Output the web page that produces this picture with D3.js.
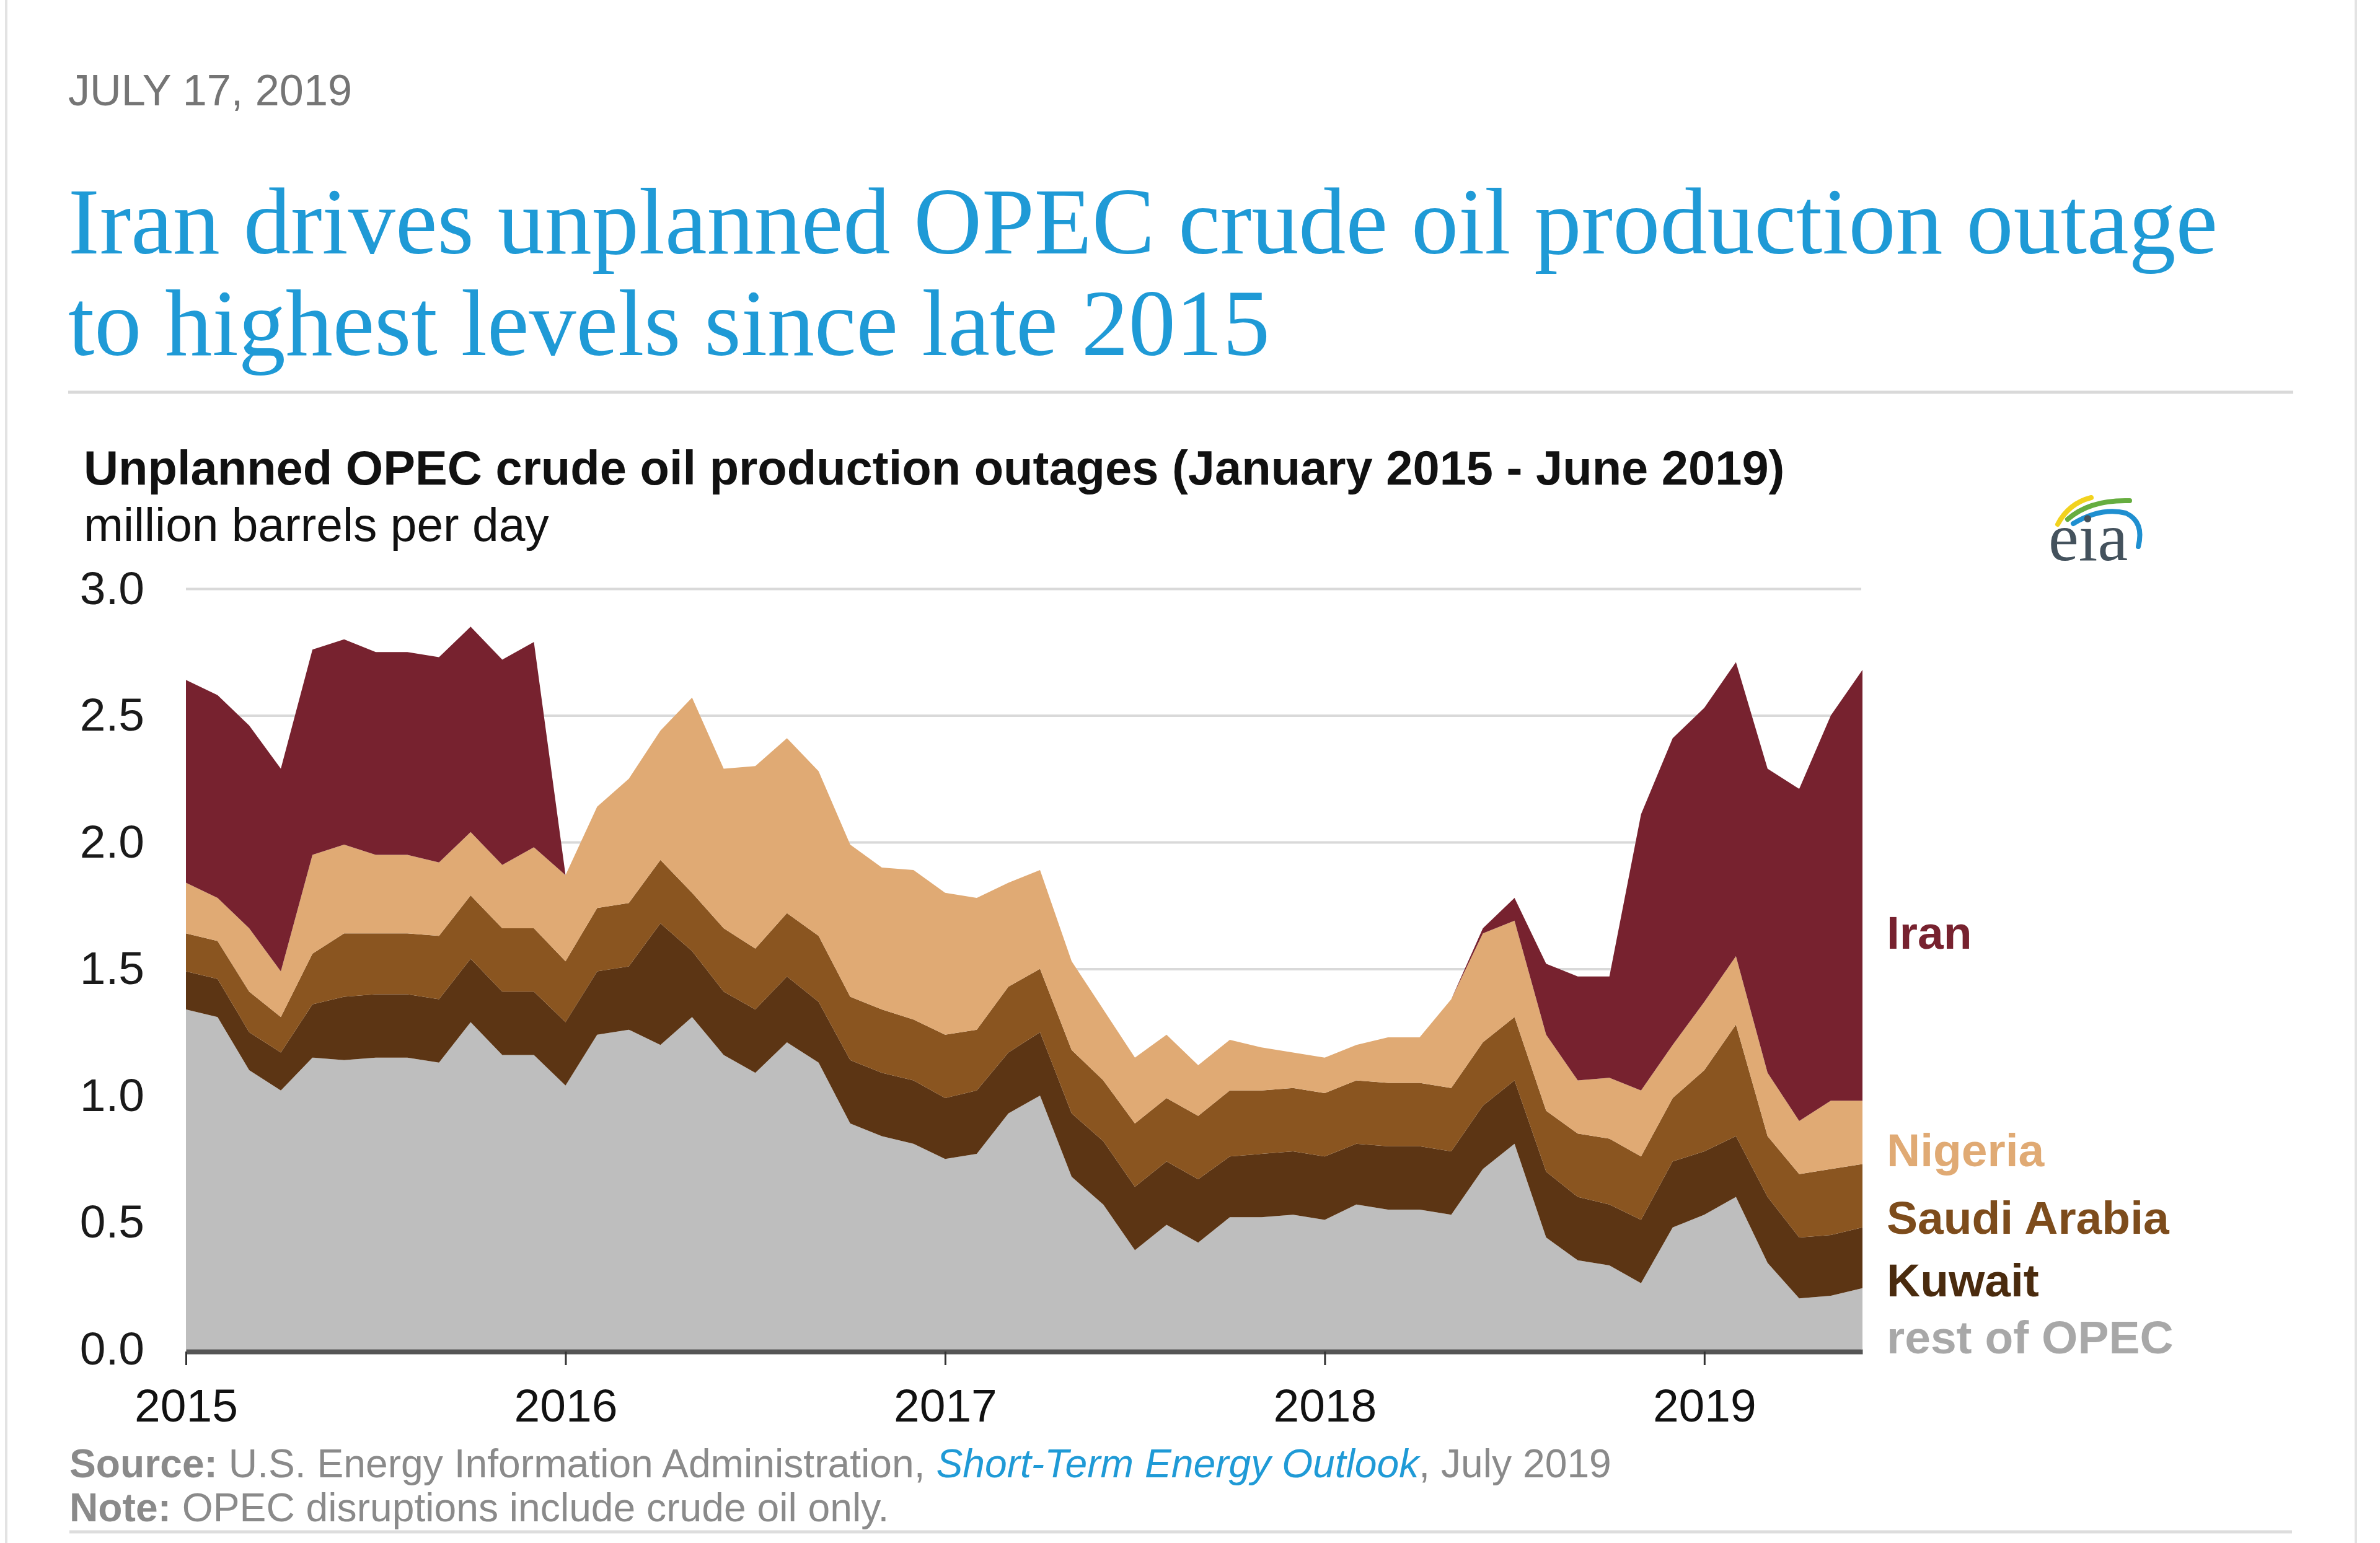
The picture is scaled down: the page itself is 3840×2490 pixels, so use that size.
<!DOCTYPE html>
<html>
<head>
<meta charset="utf-8">
<script src="https://cdn.jsdelivr.net/npm/d3@7"></script>
<style>
  html, body { margin: 0; padding: 0; background: #ffffff; }
  svg { display: block; }
</style>
</head>
<body>
<svg id="chart" width="3840" height="2490"></svg>
<script>
// ---------------- DATA (million barrels per day, monthly Jan 2015 - Jun 2019) ----------------
const yearLabels = ["2015", "2016", "2017", "2018", "2019"];
const yTicks = [0, 0.5, 1.0, 1.5, 2.0, 2.5, 3.0];
const seriesNames = ["rest of OPEC", "Kuwait", "Saudi Arabia", "Nigeria", "Iran"];

const restOfOPEC = [1.34,1.31,1.10,1.02,1.15,1.14,1.15,1.15,1.13,1.29,1.16,1.16,
                    1.04,1.24,1.26,1.20,1.31,1.16,1.09,1.21,1.13,0.89,0.84,0.81,
                    0.75,0.77,0.93,1.00,0.68,0.57,0.39,0.49,0.42,0.52,0.52,0.53,
                    0.51,0.57,0.55,0.55,0.53,0.71,0.81,0.44,0.35,0.33,0.26,0.48,
                    0.53,0.60,0.34,0.20,0.21,0.24];
const kuwait     = [0.15,0.15,0.15,0.15,0.21,0.25,0.25,0.25,0.25,0.25,0.25,0.25,
                    0.25,0.25,0.25,0.48,0.26,0.25,0.25,0.26,0.24,0.25,0.25,0.25,
                    0.24,0.25,0.24,0.25,0.25,0.25,0.25,0.25,0.25,0.24,0.25,0.25,
                    0.25,0.24,0.25,0.25,0.25,0.25,0.25,0.26,0.25,0.24,0.25,0.26,
                    0.25,0.24,0.26,0.24,0.24,0.24];
const saudiArabia= [0.15,0.15,0.16,0.14,0.20,0.25,0.24,0.24,0.25,0.25,0.25,0.25,
                    0.24,0.25,0.25,0.25,0.23,0.25,0.24,0.25,0.26,0.25,0.25,0.24,
                    0.25,0.24,0.26,0.25,0.25,0.24,0.25,0.25,0.25,0.26,0.25,0.25,
                    0.25,0.25,0.25,0.25,0.25,0.25,0.25,0.24,0.25,0.26,0.25,0.25,
                    0.32,0.44,0.24,0.25,0.26,0.25];
const nigeria    = [0.20,0.17,0.25,0.18,0.39,0.35,0.31,0.31,0.29,0.25,0.25,0.32,
                    0.34,0.40,0.49,0.51,0.77,0.63,0.72,0.69,0.65,0.60,0.56,0.59,
                    0.56,0.52,0.41,0.39,0.35,0.28,0.26,0.25,0.20,0.20,0.17,0.14,
                    0.14,0.14,0.18,0.18,0.35,0.43,0.38,0.30,0.21,0.24,0.26,0.21,
                    0.27,0.27,0.25,0.21,0.27,0.25];
const iran       = [0.80,0.80,0.80,0.80,0.81,0.81,0.80,0.80,0.81,0.81,0.81,0.81,
                    0.00,0.00,0.00,0.00,0.00,0.00,0.00,0.00,0.00,0.00,0.00,0.00,
                    0.00,0.00,0.00,0.00,0.00,0.00,0.00,0.00,0.00,0.00,0.00,0.00,
                    0.00,0.00,0.00,0.00,0.00,0.02,0.09,0.28,0.41,0.40,1.09,1.21,
                    1.16,1.16,1.20,1.31,1.52,1.70];

const seriesColors = ["#bebebe", "#5c3514", "#8a5520", "#e0aa74", "#77222f"];
const labelColors  = ["#a8a8a8", "#4a2b0e", "#7d4c1c", "#e0aa74", "#77222f"];

// ---------------- BUILD TABLE ----------------
const table = restOfOPEC.map((v, i) => ({
  "rest of OPEC": v,
  "Kuwait": kuwait[i],
  "Saudi Arabia": saudiArabia[i],
  "Nigeria": nigeria[i],
  "Iran": iran[i],
  idx: i
}));
const stacked = d3.stack().keys(seriesNames)(table);

const svg = d3.select("#chart");
const SANS = "'Liberation Sans', Arial, Helvetica, sans-serif";
const SERIF = "'Liberation Serif', 'Times New Roman', serif";

function fitWidth(sel, target) {
  const w = sel.node().getComputedTextLength();
  const fs = parseFloat(sel.attr("font-size"));
  sel.attr("font-size", (fs * target / w).toFixed(2));
}

// page frame
svg.append("line").attr("x1", 10).attr("x2", 10).attr("y1", 0).attr("y2", 2490)
  .attr("stroke", "#e3e3e3").attr("stroke-width", 4);
svg.append("line").attr("x1", 3801).attr("x2", 3801).attr("y1", 0).attr("y2", 2490)
  .attr("stroke", "#e3e3e3").attr("stroke-width", 4);

// header
const dateT = svg.append("text").attr("x", 110).attr("y", 170)
  .attr("font-family", SANS).attr("font-size", 70).attr("fill", "#757575")
  .text("JULY 17, 2019");
fitWidth(dateT, 458);

const t1 = svg.append("text").attr("x", 110).attr("y", 409)
  .attr("font-family", SERIF).attr("font-size", 140).attr("fill", "#1f9ad6")
  .text("Iran drives unplanned OPEC crude oil production outage");
fitWidth(t1, 3468);
svg.append("text").attr("x", 110).attr("y", 573)
  .attr("font-family", SERIF).attr("font-size", t1.attr("font-size")).attr("fill", "#1f9ad6")
  .text("to highest levels since late 2015");

svg.append("line").attr("x1", 110).attr("x2", 3700).attr("y1", 633).attr("y2", 633)
  .attr("stroke", "#d9d9d9").attr("stroke-width", 5);

const ct = svg.append("text").attr("x", 135).attr("y", 782)
  .attr("font-family", SANS).attr("font-weight", "bold").attr("font-size", 70).attr("fill", "#111")
  .text("Unplanned OPEC crude oil production outages (January 2015 - June 2019)");
fitWidth(ct, 2745);
const ut = svg.append("text").attr("x", 135).attr("y", 873)
  .attr("font-family", SANS).attr("font-size", 68).attr("fill", "#111")
  .text("million barrels per day");
fitWidth(ut, 751);

// eia logo
const logo = svg.append("g");
logo.append("path").attr("d", "M3320,846 Q3338,812 3374,803")
  .attr("fill", "none").attr("stroke", "#f2d21e").attr("stroke-width", 8).attr("stroke-linecap", "round");
logo.append("path").attr("d", "M3336,838 Q3372,806 3436,808")
  .attr("fill", "none").attr("stroke", "#66ad3f").attr("stroke-width", 8).attr("stroke-linecap", "round");
logo.append("path").attr("d", "M3345,845 Q3390,818 3430,828 Q3460,842 3450,882")
  .attr("fill", "none").attr("stroke", "#1f8fd0").attr("stroke-width", 8).attr("stroke-linecap", "round");
logo.append("text").attr("x", 3305).attr("y", 904)
  .attr("font-family", SERIF).attr("font-size", 110).attr("fill", "#44525d")
  .text("eia");

// ---------------- SCALES ----------------
const x = d3.scaleLinear().domain([0, 53]).range([300, 3005]);
const y = d3.scaleLinear().domain([0, 3]).range([2177, 950]);

// grid + y axis
const yAxis = d3.axisLeft(y).tickValues(yTicks).tickFormat(d3.format(".1f"))
  .tickSize(-(3003 - 300)).tickPadding(67);
const gy = svg.append("g").attr("transform", "translate(300,0)").call(yAxis);
gy.select(".domain").remove();
gy.selectAll("line").attr("stroke", "#d9d9d9").attr("stroke-width", 4);
gy.selectAll("text").attr("font-family", SANS).attr("font-size", 75).attr("fill", "#1a1a1a");

// stacked areas
const area = d3.area()
  .x(d => x(d.data.idx))
  .y0(d => y(d[0]))
  .y1(d => y(d[1]));
svg.append("g").selectAll("path").data(stacked).join("path")
  .attr("d", area)
  .attr("fill", (d, i) => seriesColors[i]);

// x axis
const xAxis = d3.axisBottom(x).tickValues([0, 12, 24, 36, 48])
  .tickFormat((d, i) => yearLabels[i]).tickSize(22).tickSizeOuter(0).tickPadding(38);
const gx = svg.append("g").attr("transform", "translate(0,2181)").call(xAxis);
gx.select(".domain").attr("stroke", "#555555").attr("stroke-width", 8);
gx.selectAll(".tick line").attr("stroke", "#333").attr("stroke-width", 3);
gx.selectAll("text").attr("font-family", SANS).attr("font-size", 75).attr("fill", "#111");

// series labels
const labelY = { "Iran": 1531, "Nigeria": 1882, "Saudi Arabia": 1991, "Kuwait": 2092, "rest of OPEC": 2184 };
svg.append("g").selectAll("text").data(seriesNames).join("text")
  .attr("x", 3044).attr("y", d => labelY[d])
  .attr("font-family", SANS).attr("font-weight", "bold").attr("font-size", 75)
  .attr("fill", (d, i) => labelColors[i])
  .text(d => d);

// footer
const src = svg.append("text").attr("x", 112).attr("y", 2384)
  .attr("font-family", SANS).attr("font-size", 60).attr("fill", "#8a8a8a");
src.append("tspan").attr("font-weight", "bold").text("Source:");
src.append("tspan").text(" U.S. Energy Information Administration, ");
src.append("tspan").attr("font-style", "italic").attr("fill", "#1f9ad6").text("Short-Term Energy Outlook");
src.append("tspan").text(", July 2019");
fitWidth(src, 2488);
const note = svg.append("text").attr("x", 112).attr("y", 2455)
  .attr("font-family", SANS).attr("font-size", src.attr("font-size")).attr("fill", "#8a8a8a");
note.append("tspan").attr("font-weight", "bold").text("Note:");
note.append("tspan").text(" OPEC disruptions include crude oil only.");

svg.append("line").attr("x1", 112).attr("x2", 3698).attr("y1", 2472).attr("y2", 2472)
  .attr("stroke", "#dddddd").attr("stroke-width", 5);
</script>
</body>
</html>
